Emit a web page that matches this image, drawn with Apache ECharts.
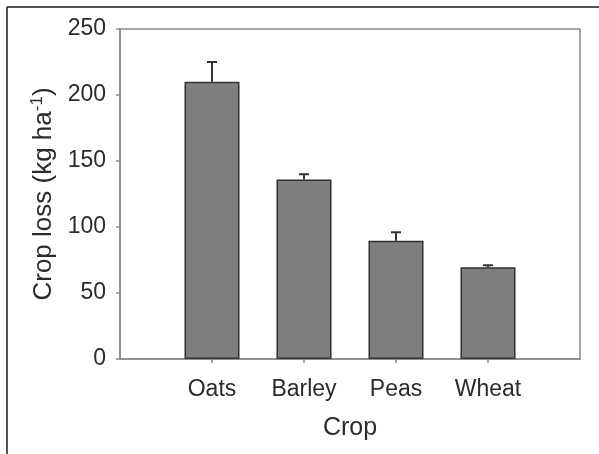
<!DOCTYPE html>
<html lang="en">
<head>
    <meta charset="UTF-8">
    <title>Crop loss</title>
    <style>
        html, body { margin: 0; padding: 0; background: #fff; }
    </style>
</head>
<body>
    <div id="box" style="width: 599px; height: 454px;"></div>
</body>
<script src="https://cdn.jsdelivr.net/npm/echarts@6/dist/echarts.min.js"></script>
<script>
    // data
    var crops = ["Oats", "Barley", "Peas", "Wheat"];
    var cropLoss = [210, 136, 89.5, 69.5];
    var errorTop = [225, 140, 96, 71];
    var yTicks = [0, 50, 100, 150, 200, 250];

    var font = "'Liberation Sans', Arial, sans-serif";
    var textColor = "#2b2b2b";
    var axisColor = "#8a8a8a";

    // blank slot at each end so the bars sit on ticks like the original plot
    var xData = [""].concat(crops, [""]);
    var barData = ["-"].concat(cropLoss, ["-"]);
    var errData = [];
    for (var i = 0; i < crops.length; i++) {
        errData.push([i + 1, cropLoss[i], errorTop[i]]);
    }

    var box = echarts.init(document.getElementById("box"));
    var option = {
        animation: false,
        textStyle: { fontFamily: font },
        graphic: [
            { type: "line", shape: { x1: 7, y1: 7, x2: 599, y2: 7 }, style: { stroke: "#1a1a1a", lineWidth: 1.5 } },
            { type: "line", shape: { x1: 7, y1: 7, x2: 7, y2: 454 }, style: { stroke: "#1a1a1a", lineWidth: 1.5 } }
        ],
        grid: {
            left: 120,
            right: 19,
            top: 29,
            bottom: 95,
            show: true,
            borderColor: axisColor,
            borderWidth: 1.5,
            backgroundColor: "#fff"
        },
        xAxis: {
            type: "category",
            data: xData,
            boundaryGap: false,
            name: "Crop",
            nameLocation: "middle",
            nameGap: 57,
            nameTextStyle: { color: textColor, fontSize: 25, fontFamily: font },
            axisLine: { show: true, lineStyle: { color: axisColor, width: 1.5 } },
            axisTick: {
                show: true,
                length: 4,
                lineStyle: { color: axisColor, width: 1.5 },
                interval: function (index) { return index > 0 && index < xData.length - 1; }
            },
            axisLabel: {
                color: textColor,
                fontSize: 23,
                fontFamily: font,
                margin: 19,
                interval: 0
            },
            splitLine: { show: false }
        },
        yAxis: {
            type: "value",
            min: 0,
            max: yTicks[yTicks.length - 1],
            interval: 50,
            name: "{t|Crop loss (kg ha}{s|-1}{t|)}",
            nameLocation: "middle",
            nameGap: 62,
            nameTextStyle: {
                color: textColor,
                fontFamily: font,
                rich: {
                    t: { fontSize: 26, color: textColor, fontFamily: font },
                    s: { fontSize: 17, color: textColor, fontFamily: font, verticalAlign: "top", padding: [0, 0, 12, 0] }
                }
            },
            axisLine: { show: true, lineStyle: { color: axisColor, width: 1.5 } },
            axisTick: { show: true, length: 4, lineStyle: { color: axisColor, width: 1.5 } },
            axisLabel: { color: textColor, fontSize: 23, fontFamily: font, margin: 14 },
            splitLine: { show: false }
        },
        series: [
            {
                type: "bar",
                data: barData,
                barWidth: 55,
                itemStyle: { color: "#7f7f7f", borderColor: "#333", borderWidth: 1.5 },
                z: 2
            },
            {
                type: "custom",
                data: errData,
                z: 3,
                renderItem: function (params, api) {
                    var base = api.coord([api.value(0), api.value(1)]);
                    var top = api.coord([api.value(0), api.value(2)]);
                    var half = 5;
                    return {
                        type: "group",
                        children: [
                            { type: "line", shape: { x1: base[0], y1: base[1], x2: top[0], y2: top[1] }, style: { stroke: "#333", lineWidth: 2 } },
                            { type: "line", shape: { x1: top[0] - half, y1: top[1], x2: top[0] + half, y2: top[1] }, style: { stroke: "#333", lineWidth: 2 } }
                        ]
                    };
                }
            }
        ]
    };
    box.setOption(option);
</script>
</html>
